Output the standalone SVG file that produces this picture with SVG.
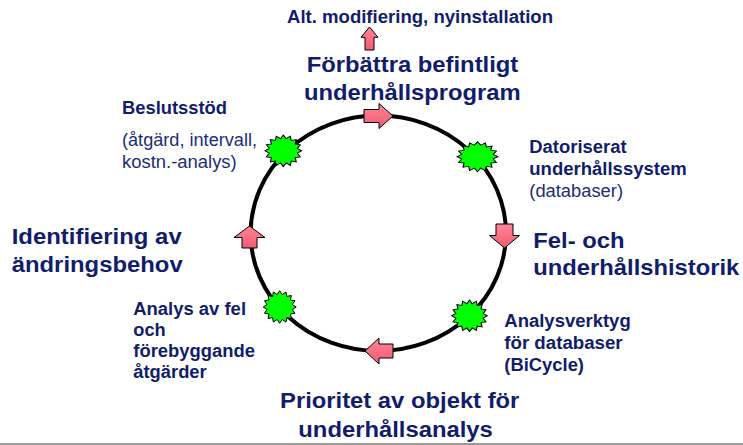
<svg xmlns="http://www.w3.org/2000/svg" width="743" height="445" viewBox="0 0 743 445">
<style>
.t{font-family:"Liberation Sans",Arial,sans-serif;font-weight:bold;fill:#111D6C}
.s{font-size:17.5px}
.l{font-size:22px}
.r{font-weight:normal;fill:#1B2C7E}
.ar{fill:url(#pink);stroke:#000;stroke-width:1}
.st{fill:#00FF00;stroke:#000;stroke-width:1}
</style>
<defs>
<linearGradient id="pink" x1="0" y1="0" x2="0" y2="1">
<stop offset="0" stop-color="#FF8597"/>
<stop offset="1" stop-color="#F25A72"/>
</linearGradient>
<path id="star" d="M0,-100 L15.2,-76.5 L38.3,-92.4 L43.3,-64.9 L70.7,-70.7 L64.9,-43.3 L92.4,-38.3 L76.5,-15.2 L100,0 L76.5,15.2 L92.4,38.3 L64.9,43.3 L70.7,70.7 L43.3,64.9 L38.3,92.4 L15.2,76.5 L0,100 L-15.2,76.5 L-38.3,92.4 L-43.3,64.9 L-70.7,70.7 L-64.9,43.3 L-92.4,38.3 L-76.5,15.2 L-100,0 L-76.5,-15.2 L-92.4,-38.3 L-64.9,-43.3 L-70.7,-70.7 L-43.3,-64.9 L-38.3,-92.4 L-15.2,-76.5 Z"/>
</defs>
<rect width="743" height="445" fill="#fff"/>
<rect x="0" y="443" width="743" height="2" fill="#9A9A9A"/>

<g id="connectors">
<ellipse cx="378.3" cy="233.3" rx="127.7" ry="117.7" fill="none" stroke="#000" stroke-width="4"/>
<path class="ar" transform="translate(393,116)" d="M0,0 L-14,-12.5 L-14,-6.5 L-29,-6.5 L-29,6.5 L-14,6.5 L-14,12.5 Z"/>
<path class="ar" transform="translate(504.5,248)" d="M0,0 L-15,-12.5 L-8.5,-12.5 L-8.5,-24 L8.5,-24 L8.5,-12.5 L15,-12.5 Z"/>
<path class="ar" transform="translate(365,351)" d="M0,0 L14,-13 L14,-7 L28,-7 L28,7 L14,7 L14,13 Z"/>
<path class="ar" transform="translate(249.5,226)" d="M0,0 L-15.5,11.5 L-7.5,11.5 L-7.5,22 L7.5,22 L7.5,11.5 L15.5,11.5 Z"/>
<path class="ar" transform="translate(369.5,27)" d="M0,0 L-8.5,10.3 L-4.5,10.3 L-4.5,23 L4.5,23 L4.5,10.3 L8.5,10.3 Z"/>
</g>

<g id="star-beslut"><use href="#star" class="st" transform="translate(283.3,150.8) scale(0.183,0.158)" vector-effect="non-scaling-stroke" style="stroke-width:6"/></g>
<g id="star-dator"><use href="#star" class="st" transform="translate(477.5,156.7) scale(0.205,0.15)" style="stroke-width:5.5"/></g>
<g id="star-analysfel"><use href="#star" class="st" transform="translate(279.7,307) scale(0.165,0.163)" style="stroke-width:6"/></g>
<g id="star-analysverktyg"><use href="#star" class="st" transform="translate(469.5,315.8) scale(0.178,0.158)" style="stroke-width:6"/></g>

<g id="alt">
<text class="t s" x="287" y="23" textLength="266" lengthAdjust="spacingAndGlyphs">Alt. modifiering, nyinstallation</text>
</g>
<g id="forbattra">
<text class="t l" x="306.7" y="72" textLength="211.6" lengthAdjust="spacingAndGlyphs">Förbättra befintligt</text>
<text class="t l" x="304" y="100" textLength="216.7" lengthAdjust="spacingAndGlyphs">underhållsprogram</text>
</g>
<g id="beslutsstod">
<text class="t s" x="122" y="114" textLength="105" lengthAdjust="spacingAndGlyphs">Beslutsstöd</text>
<text class="t s r" x="122" y="146" textLength="135" lengthAdjust="spacingAndGlyphs">(åtgärd, intervall,</text>
<text class="t s r" x="122" y="168" textLength="114.7" lengthAdjust="spacingAndGlyphs">kostn.-analys)</text>
</g>
<g id="datoriserat">
<text class="t s" x="529.3" y="153" textLength="97.3" lengthAdjust="spacingAndGlyphs">Datoriserat</text>
<text class="t s" x="529.3" y="175" textLength="157.4" lengthAdjust="spacingAndGlyphs">underhållssystem</text>
<text class="t s r" x="529.3" y="197" textLength="93.7" lengthAdjust="spacingAndGlyphs">(databaser)</text>
</g>
<g id="felhistorik">
<text class="t l" x="533.3" y="248" textLength="91.2" lengthAdjust="spacingAndGlyphs">Fel- och</text>
<text class="t l" x="533.3" y="275" textLength="206" lengthAdjust="spacingAndGlyphs">underhållshistorik</text>
</g>
<g id="analysverktyg">
<text class="t s" x="504.3" y="327" textLength="126.4" lengthAdjust="spacingAndGlyphs">Analysverktyg</text>
<text class="t s" x="504.3" y="349" textLength="118.3" lengthAdjust="spacingAndGlyphs">för databaser</text>
<text class="t s" x="504.3" y="371" textLength="79.7" lengthAdjust="spacingAndGlyphs">(BiCycle)</text>
</g>
<g id="prioritet">
<text class="t l" x="280" y="408" textLength="239.4" lengthAdjust="spacingAndGlyphs">Prioritet av objekt för</text>
<text class="t l" x="298.3" y="437" textLength="194.5" lengthAdjust="spacingAndGlyphs">underhållsanalys</text>
</g>
<g id="analysfel">
<text class="t s" x="133.3" y="315" textLength="112.7" lengthAdjust="spacingAndGlyphs">Analys av fel</text>
<text class="t s" x="133.3" y="336" textLength="32.4" lengthAdjust="spacingAndGlyphs">och</text>
<text class="t s" x="133.3" y="357" textLength="121.7" lengthAdjust="spacingAndGlyphs">förebyggande</text>
<text class="t s" x="133.3" y="378" textLength="73.4" lengthAdjust="spacingAndGlyphs">åtgärder</text>
</g>
<g id="identifiering">
<text class="t l" x="11.7" y="244" textLength="170" lengthAdjust="spacingAndGlyphs">Identifiering av</text>
<text class="t l" x="11.7" y="272" textLength="171" lengthAdjust="spacingAndGlyphs">ändringsbehov</text>
</g>
</svg>
